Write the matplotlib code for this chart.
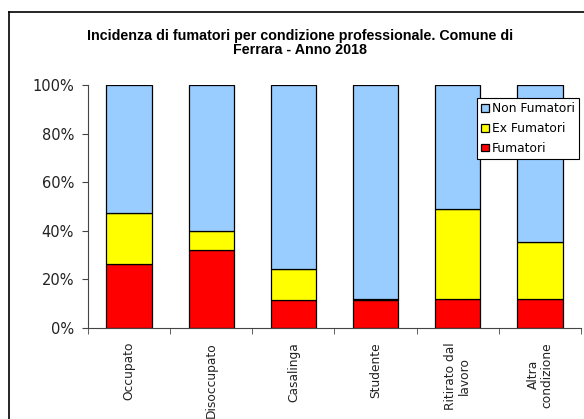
import matplotlib
matplotlib.use("Agg")
import matplotlib.pyplot as plt
import numpy as np
from matplotlib.lines import Line2D
from matplotlib.ticker import FuncFormatter, FixedLocator

categories = ["Occupato", "Disoccupato", "Casalinga", "Studente", "Ritirato dal\nlavoro", "Altra\ncondizione"]
fumatori = [26.2, 32.1, 11.5, 11.5, 11.8, 11.8]
ex_fumatori = [21.3, 7.9, 12.6, 0.6, 37.3, 23.5]
non_fumatori = [100 - f - e for f, e in zip(fumatori, ex_fumatori)]

plt.rcParams['font.family'] = ['DejaVu Sans']

fig = plt.figure(figsize=(5.84, 4.19), dpi=100)
ax = fig.add_axes([88/584, 1-328/419, (581-88)/584, (328-85)/419])

x = np.arange(len(categories))
w = 0.55
ec = "black"
lw = 0.9
b1 = ax.bar(x, fumatori, w, color="#FF0000", edgecolor=ec, linewidth=lw, label="Fumatori")
b2 = ax.bar(x, ex_fumatori, w, bottom=fumatori, color="#FFFF00", edgecolor=ec, linewidth=lw, label="Ex Fumatori")
bottom3 = [f + e for f, e in zip(fumatori, ex_fumatori)]
b3 = ax.bar(x, non_fumatori, w, bottom=bottom3, color="#99CCFF", edgecolor=ec, linewidth=lw, label="Non Fumatori")

ax.set_xlim(-0.5, len(categories) - 0.5)
ax.set_ylim(0, 100)
ax.set_yticks([0, 20, 40, 60, 80, 100])
ax.yaxis.set_major_formatter(FuncFormatter(lambda v, p: f"{int(v)}%"))
ax.set_xticks(x)
ax.set_xticklabels(categories, rotation=90, ha="center", va="top", multialignment="center", fontsize=8.8, color="#222222",
                   linespacing=1.05)
ax.tick_params(axis="x", length=0, pad=10)
ax.xaxis.set_minor_locator(FixedLocator(np.arange(-0.5, len(categories), 1.0)))
ax.tick_params(axis="x", which="minor", length=4, direction="out", color="#444444")
ax.tick_params(axis="y", length=4, direction="out", labelsize=10.5, color="#444444", labelcolor="#222222", pad=6)
for s in ["top", "right"]:
    ax.spines[s].set_visible(False)
ax.spines["left"].set_color("#444444")
ax.spines["bottom"].set_color("#444444")

leg = ax.legend(handles=[b3, b2, b1], loc="upper left",
                bbox_to_anchor=((477-88)/(581-88), (328-98)/(328-85)),
                fontsize=8.8, frameon=True, fancybox=False, edgecolor="black", framealpha=1,
                handlelength=0.6, handleheight=0.6, handletextpad=0.25,
                borderpad=0.35, labelspacing=0.55, borderaxespad=0)
leg.get_frame().set_linewidth(0.8)

fig.text(300/584, 1-36/419, "Incidenza di fumatori per condizione professionale. Comune di",
         ha="center", va="center", fontsize=10.3, fontweight="bold", family="Liberation Sans")
fig.text(300/584, 1-50/419, "Ferrara - Anno 2018",
         ha="center", va="center", fontsize=10.3, fontweight="bold", family="Liberation Sans")

fig.add_artist(Line2D([9/584, 9/584], [0, 1-12/419], transform=fig.transFigure, color="black", linewidth=1.2))
fig.add_artist(Line2D([9/584, 1], [1-12/419, 1-12/419], transform=fig.transFigure, color="black", linewidth=1.2))

fig.savefig("out.png", dpi=100)
